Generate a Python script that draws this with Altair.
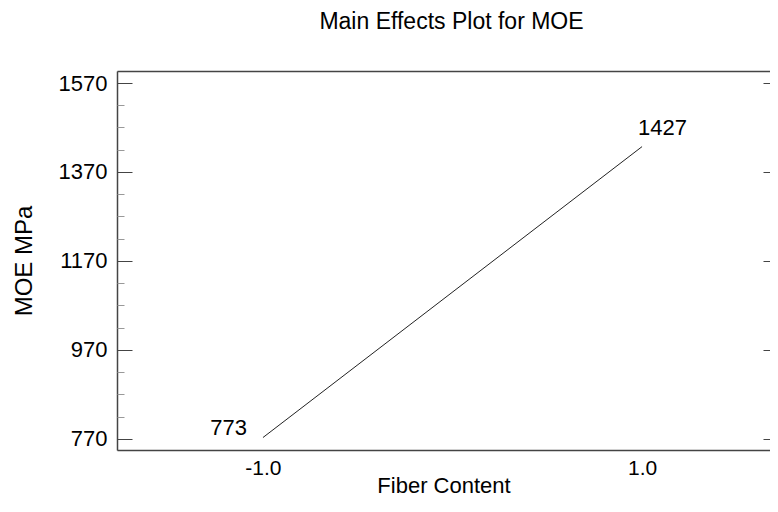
import altair as alt
import pandas as pd

# ---- data ----
fiber_levels = [-1.0, 1.0]
moe_means = [773, 1427]
mean_labels = ["773", "1427"]
x_tick_values = [-1.0, 1.0]
y_major_ticks = [770, 970, 1170, 1370, 1570]
y_minor_ticks = [820, 870, 920, 1020, 1070, 1120, 1220, 1270, 1320, 1420, 1470, 1520]

df = pd.DataFrame({"fiber": fiber_levels, "moe": moe_means, "label": mean_labels})

FONT = "Liberation Sans"
W, H = 653, 379
FRAME = "#444444"

xs = alt.Scale(domain=[-1.77, 1.675], nice=False, zero=False)
ys = alt.Scale(domain=[745, 1597], nice=False, zero=False)

base = alt.Chart(df)

line = base.mark_line(color="#222222", strokeWidth=1).encode(
    x=alt.X("fiber:Q", scale=xs, axis=alt.Axis(
        orient="bottom", values=x_tick_values, format=".1f",
        labelExpr="replace(datum.label, '\u2212', '-')", ticks=False,
        domain=True, domainColor=FRAME, domainWidth=1.5, grid=False,
        labelFont=FONT, labelFontSize=21, labelColor="black", labelPadding=7,
        title="Fiber Content", titleFont=FONT, titleFontSize=22,
        titleFontWeight="normal", titleColor="black",
        titleBaseline="alphabetic", titleY=42)),
    y=alt.Y("moe:Q", scale=ys, axis=alt.Axis(
        orient="left", values=y_major_ticks, format="d", ticks=False, domain=False,
        grid=False, labelFont=FONT, labelFontSize=22, labelColor="black",
        labelPadding=10, title="MOE MPa", titleFont=FONT, titleFontSize=24,
        titleFontWeight="normal", titleColor="black", titlePadding=22)),
)

txt_low = base.transform_filter("datum.fiber < 0").mark_text(
    font=FONT, fontSize=22, color="black", align="right", baseline="alphabetic",
    dx=-16, dy=-3).encode(
    x=alt.X("fiber:Q", scale=xs, axis=alt.Axis(
        orient="top", labels=False, ticks=False, domain=True, domainColor=FRAME,
        domainWidth=1.5, grid=False, title=None)),
    y=alt.Y("moe:Q", scale=ys, axis=alt.Axis(
        orient="right", offset=-W, values=y_major_ticks, labels=False, ticks=True,
        tickSize=15, tickColor=FRAME, tickWidth=1, domain=True, domainColor=FRAME,
        domainWidth=1.5, grid=False, title=None)),
    text="label:N",
)

txt_high = base.transform_filter("datum.fiber > 0").mark_text(
    font=FONT, fontSize=22, color="black", align="left", baseline="alphabetic",
    dx=-4, dy=-12).encode(
    x=alt.X("fiber:Q", scale=xs, axis=None),
    y=alt.Y("moe:Q", scale=ys, axis=alt.Axis(
        orient="right", offset=-W, values=y_minor_ticks, labels=False, ticks=True,
        tickSize=7, tickColor="#999999", tickWidth=1, domain=False, grid=False,
        title=None)),
    text="label:N",
)

right_ticks = base.mark_point(opacity=0).encode(
    x=alt.X("fiber:Q", scale=xs, axis=None),
    y=alt.Y("moe:Q", scale=ys, axis=alt.Axis(
        orient="left", offset=-(W + 8), values=y_major_ticks, labels=False,
        ticks=True, tickSize=15, tickColor=FRAME, tickWidth=1, domain=False,
        grid=False, title=None)),
)

chart = alt.layer(line, txt_low, txt_high, right_ticks).resolve_axis(
    x="independent", y="independent"
).properties(
    width=W,
    height=H,
    title=alt.TitleParams("Main Effects Plot for MOE", font=FONT, fontSize=23,
                          fontWeight="normal", color="black", anchor="middle",
                          baseline="alphabetic", offset=19, dx=8),
    autosize=alt.AutoSizeParams(type="none"),
    padding={"left": 109, "top": 63, "right": 0, "bottom": 48},
).configure_view(stroke=None).configure(background="white")

chart.save("out.html", embed_options={"renderer": "svg", "actions": False})
